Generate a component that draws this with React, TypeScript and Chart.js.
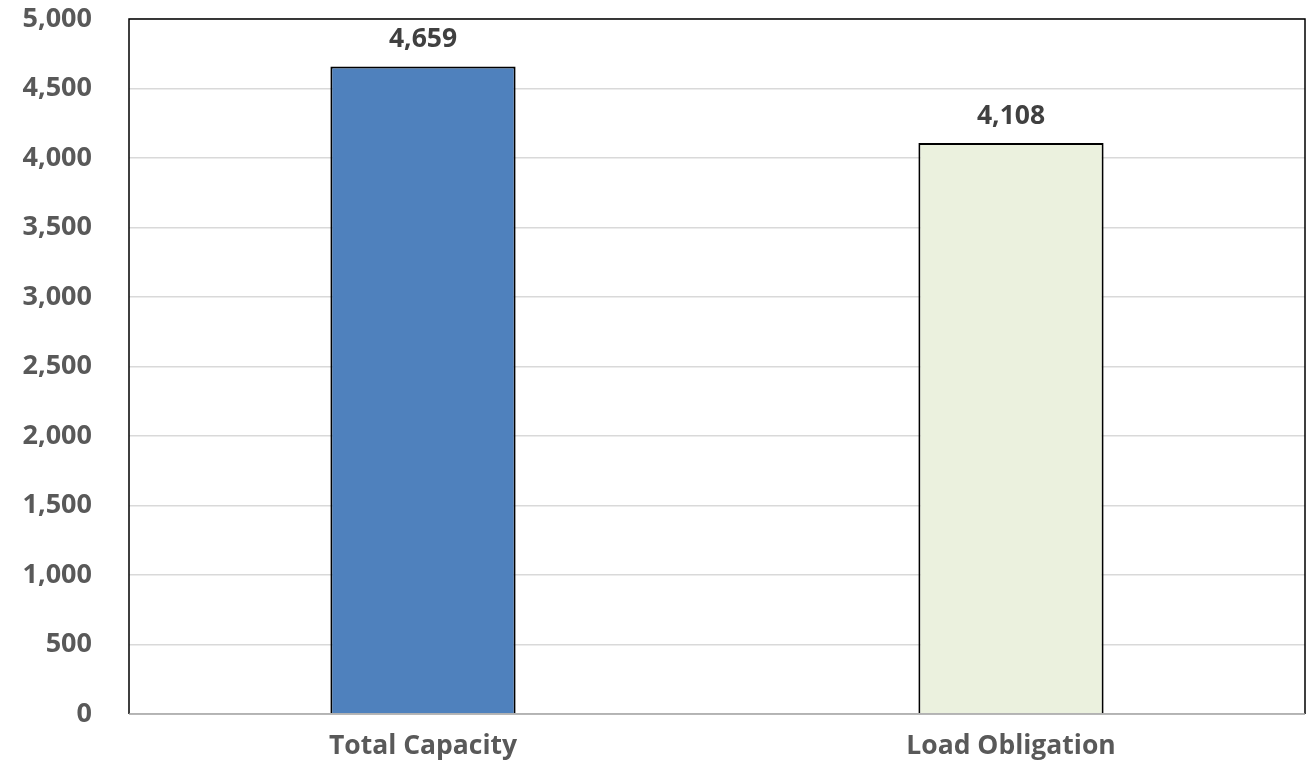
import React, { useEffect, useRef } from "react";
import { Chart, registerables } from "chart.js";

Chart.register(...registerables);

const categories = ["Total Capacity", "Load Obligation"];
const values = [4659, 4108];
const barColors = ["#4f81bd", "#ebf1de"];
const yTicks = [0, 500, 1000, 1500, 2000, 2500, 3000, 3500, 4000, 4500, 5000];

const FONT = "'Open Sans', sans-serif";

const fmt = (v: number) => v.toLocaleString("en-US");

const framePlugin = {
  id: "frame",
  afterDatasetsDraw(chart: any) {
    const { ctx, chartArea } = chart;
    const { left, right, top, bottom } = chartArea;
    ctx.save();
    ctx.lineWidth = 1.5;
    ctx.strokeStyle = "#000000";
    ctx.beginPath();
    ctx.moveTo(left, bottom);
    ctx.lineTo(left, top);
    ctx.lineTo(right, top);
    ctx.lineTo(right, bottom);
    ctx.stroke();
    ctx.strokeStyle = "#a6a6a6";
    ctx.beginPath();
    ctx.moveTo(left, bottom);
    ctx.lineTo(right, bottom);
    ctx.stroke();
    ctx.restore();
  },
};

const labelPlugin = {
  id: "valueLabels",
  afterDatasetsDraw(chart: any) {
    const { ctx } = chart;
    const meta = chart.getDatasetMeta(0);
    ctx.save();
    ctx.font = `700 26.5px ${FONT}`;
    ctx.fillStyle = "#404040";
    ctx.textAlign = "center";
    ctx.textBaseline = "middle";
    meta.data.forEach((bar: any, i: number) => {
      ctx.fillText(fmt(values[i]), bar.x, bar.y - 27);
    });
    ctx.restore();
  },
};

export default function App() {
  const ref = useRef<HTMLCanvasElement>(null);
  useEffect(() => {
    if (!ref.current) return;
    const chart = new Chart(ref.current, {
      type: "bar",
      data: {
        labels: categories,
        datasets: [
          {
            data: values,
            backgroundColor: barColors,
            borderColor: "#000000",
            borderWidth: 2,
            categoryPercentage: 1,
            barPercentage: 0.315,
          },
        ],
      },
      options: {
        animation: false,
        responsive: false,
        maintainAspectRatio: false,
        layout: { padding: { top: 19, right: 9, left: 0, bottom: 0 } },
        plugins: { legend: { display: false }, tooltip: { enabled: false } },
        scales: {
          x: {
            grid: { display: false, drawTicks: false },
            border: { display: false },
            ticks: {
              padding: 17,
              color: "#595959",
              font: { family: FONT, size: 26.5, weight: "bold" },
            },
            afterFit(scale: any) {
              scale.height = 58;
              scale.paddingLeft = 0;
              scale.paddingRight = 0;
            },
          },
          y: {
            min: 0,
            max: 5000,
            afterBuildTicks(scale: any) {
              scale.ticks = yTicks.map((v) => ({ value: v }));
            },
            grid: { color: "#d9d9d9", lineWidth: 1.5, drawTicks: false },
            border: { display: false },
            ticks: {
              padding: 37,
              color: "#595959",
              font: { family: FONT, size: 27, weight: "bold" },
              callback: (v: any) => fmt(Number(v)),
            },
            afterFit(scale: any) {
              scale.width = 129;
              scale.paddingTop = 0;
              scale.paddingBottom = 0;
            },
          },
        },
      },
      plugins: [framePlugin, labelPlugin],
    });
    return () => chart.destroy();
  }, []);
  return (
    <div style={{ position: "fixed", left: 0, top: 0, width: 1314, height: 772, background: "#fff" }}>
      <canvas ref={ref} width={1314} height={772} style={{ width: 1314, height: 772 }} />
    </div>
  );
}
